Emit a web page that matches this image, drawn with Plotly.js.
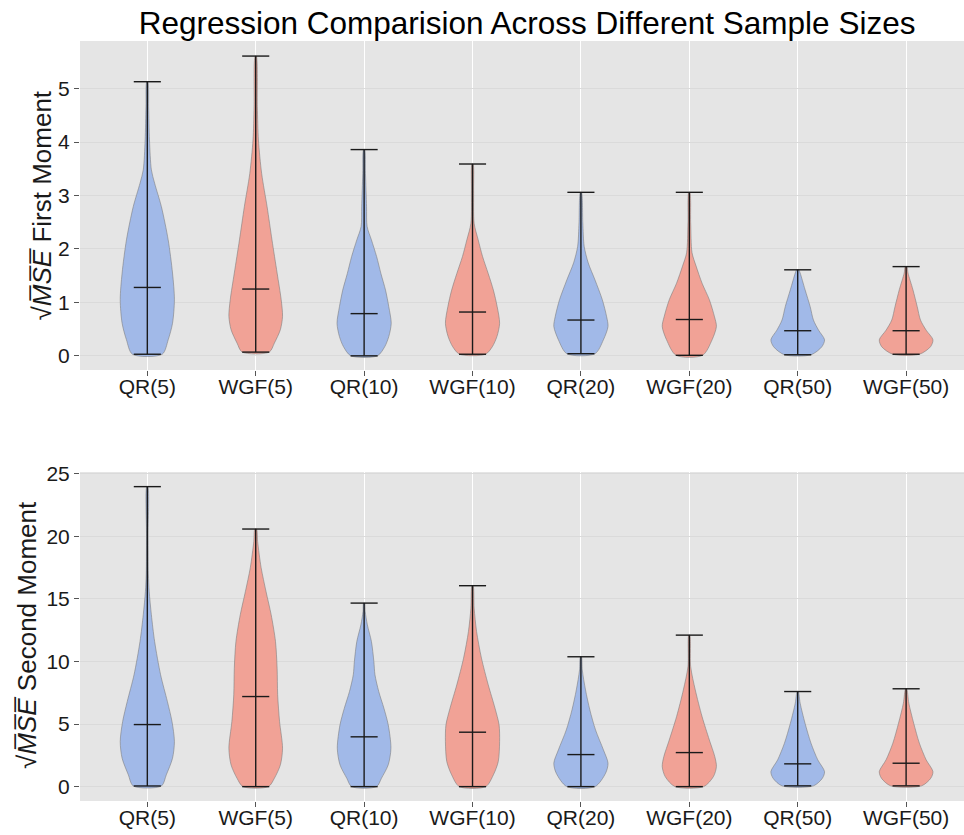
<!DOCTYPE html>
<html>
<head>
<meta charset="utf-8">
<script src="https://cdn.plot.ly/plotly-3.0.1.min.js"></script>
<style>html,body{margin:0;padding:0;background:#fff;}#chart{width:964px;height:835px;}</style>
</head>
<body>
<div id="chart"></div>
<script>
// ---- data ----
const categories = ["QR(5)", "WGF(5)", "QR(10)", "WGF(10)", "QR(20)", "WGF(20)", "QR(50)", "WGF(50)"];
const positions = [1, 2, 3, 4, 5, 6, 7, 8];

// First moment: summary values
const firstMin    = [0.03, 0.07, 0.00, 0.03, 0.04, 0.01, 0.02, 0.03];
const firstMax    = [5.13, 5.61, 3.86, 3.59, 3.06, 3.06, 1.61, 1.67];
const firstMedian = [1.28, 1.25, 0.79, 0.82, 0.67, 0.68, 0.47, 0.47];

// First moment: density profiles (value levels and relative density 0..1)
const firstLevels = [
  [0.03, 0.30, 0.61, 1.05, 1.55, 2.17, 2.79, 3.23, 3.48, 4.04, 4.66, 5.13],
  [0.07, 0.24, 0.49, 0.74, 1.05, 1.55, 2.17, 2.79, 3.41, 4.04, 4.66, 5.61],
  [0.00, 0.17, 0.36, 0.61, 0.92, 1.23, 1.54, 1.86, 2.17, 2.42, 2.79, 3.41, 3.86],
  [0.03, 0.17, 0.36, 0.61, 0.92, 1.23, 1.54, 1.86, 2.17, 2.48, 3.10, 3.59],
  [0.04, 0.30, 0.55, 0.73, 1.05, 1.42, 1.74, 2.05, 2.49, 3.06],
  [0.01, 0.30, 0.55, 0.73, 1.05, 1.36, 1.68, 1.93, 2.49, 3.06],
  [0.02, 0.17, 0.30, 0.48, 0.67, 0.92, 1.24, 1.55, 1.61],
  [0.03, 0.17, 0.30, 0.48, 0.67, 0.92, 1.24, 1.55, 1.67]
];
const firstDensity = [
  [0.55, 0.77, 0.93, 1.00, 0.93, 0.77, 0.52, 0.27, 0.15, 0.08, 0.05, 0.02],
  [0.50, 0.69, 0.91, 0.99, 0.94, 0.79, 0.60, 0.42, 0.22, 0.10, 0.06, 0.02],
  [0.49, 0.76, 0.91, 1.00, 0.91, 0.79, 0.62, 0.46, 0.27, 0.11, 0.09, 0.05, 0.02],
  [0.48, 0.73, 0.90, 1.00, 0.91, 0.77, 0.58, 0.37, 0.21, 0.06, 0.04, 0.02],
  [0.52, 0.83, 1.00, 0.95, 0.79, 0.52, 0.27, 0.12, 0.07, 0.02],
  [0.49, 0.84, 1.00, 0.93, 0.74, 0.47, 0.25, 0.10, 0.05, 0.02],
  [0.49, 0.89, 0.99, 0.77, 0.58, 0.46, 0.27, 0.09, 0.04],
  [0.49, 0.90, 0.99, 0.74, 0.53, 0.41, 0.25, 0.07, 0.03]
];

// Second moment: summary values
const secondMin    = [0.05, 0.00, 0.00, 0.00, 0.00, 0.00, 0.06, 0.06];
const secondMax    = [23.98, 20.59, 14.67, 16.06, 10.38, 12.11, 7.60, 7.82];
const secondMedian = [4.96, 7.20, 3.98, 4.35, 2.56, 2.72, 1.82, 1.87];

// Second moment: density profiles
const secondLevels = [
  [0.05, 0.94, 2.27, 3.61, 5.21, 6.81, 8.94, 11.6, 13.74, 15.6, 17.0, 20.0, 23.98],
  [0.00, 0.67, 1.74, 3.07, 5.21, 7.34, 9.47, 11.6, 13.74, 15.6, 17.5, 19.6, 20.59],
  [0.00, 0.67, 1.74, 3.07, 4.94, 6.27, 7.60, 8.94, 10.0, 11.6, 12.93, 14.0, 14.67],
  [0.00, 0.94, 2.00, 3.60, 4.94, 6.27, 8.14, 10.27, 12.4, 14.27, 16.06],
  [0.00, 1.07, 1.87, 2.94, 4.53, 6.13, 7.73, 9.33, 10.38],
  [0.00, 0.80, 1.60, 2.40, 3.73, 5.60, 7.73, 9.60, 12.11],
  [0.06, 0.67, 1.20, 2.14, 3.47, 5.07, 6.67, 7.60],
  [0.06, 0.67, 1.20, 2.14, 3.47, 5.07, 6.67, 7.82]
];
const secondDensity = [
  [0.52, 0.70, 0.93, 1.00, 0.91, 0.74, 0.49, 0.27, 0.15, 0.07, 0.04, 0.03, 0.02],
  [0.47, 0.69, 0.91, 0.99, 0.88, 0.81, 0.79, 0.73, 0.57, 0.38, 0.20, 0.07, 0.03],
  [0.46, 0.64, 0.89, 0.99, 0.89, 0.73, 0.54, 0.40, 0.36, 0.27, 0.12, 0.04, 0.02],
  [0.49, 0.77, 0.95, 1.00, 0.98, 0.83, 0.58, 0.33, 0.15, 0.06, 0.02],
  [0.52, 0.91, 1.00, 0.83, 0.54, 0.33, 0.17, 0.05, 0.02],
  [0.53, 0.89, 1.00, 0.94, 0.74, 0.47, 0.22, 0.05, 0.02],
  [0.58, 0.91, 0.99, 0.74, 0.49, 0.27, 0.09, 0.02],
  [0.57, 0.91, 0.99, 0.74, 0.49, 0.28, 0.10, 0.02]
];

const yTicksFirst = [0, 1, 2, 3, 4, 5];
const yTicksSecond = [0, 5, 10, 15, 20, 25];
const chartTitle = "Regression Comparision Across Different Sample Sizes";
const yTitleFirst = "√<i>M\u0305S\u0305E\u0305</i> First Moment";
const yTitleSecond = "√<i>M\u0305S\u0305E\u0305</i> Second Moment";

// ---- styling ----
const HALF = 0.25;     // half of violin width
const CAP = 0.125;     // half cap length
const fills = ["#a1b9e8", "#f1a296"];
const FONT = "Liberation Sans, Arial, sans-serif";

function buildTraces(levels, density, mins, maxs, meds, xa, ya) {
  const traces = [];
  for (let i = 0; i < positions.length; i++) {
    const p = positions[i];
    const lv = levels[i], dn = density[i];
    const xs = [], ys = [];
    for (let k = 0; k < lv.length; k++) { xs.push(p + HALF * dn[k]); ys.push(lv[k]); }
    for (let k = lv.length - 1; k >= 0; k--) { xs.push(p - HALF * dn[k]); ys.push(lv[k]); }
    xs.push(xs[0]); ys.push(ys[0]);
    traces.push({
      type: "scatter", mode: "lines", x: xs, y: ys, xaxis: xa, yaxis: ya,
      fill: "toself", fillcolor: fills[i % 2],
      line: {color: "rgba(120,120,120,0.55)", width: 1, shape: "spline", smoothing: 0.8},
      hoverinfo: "skip", showlegend: false
    });
  }
  const lx = [], ly = [];
  for (let i = 0; i < positions.length; i++) {
    const p = positions[i];
    lx.push(p, p, null); ly.push(mins[i], maxs[i], null);
    lx.push(p - CAP, p + CAP, null); ly.push(mins[i], mins[i], null);
    lx.push(p - CAP, p + CAP, null); ly.push(maxs[i], maxs[i], null);
    lx.push(p - CAP, p + CAP, null); ly.push(meds[i], meds[i], null);
  }
  traces.push({
    type: "scatter", mode: "lines", x: lx, y: ly, xaxis: xa, yaxis: ya,
    line: {color: "#1a1a1a", width: 1.4}, hoverinfo: "skip", showlegend: false, connectgaps: false
  });
  return traces;
}

const data = [].concat(
  buildTraces(firstLevels, firstDensity, firstMin, firstMax, firstMedian, "x", "y"),
  buildTraces(secondLevels, secondDensity, secondMin, secondMax, secondMedian, "x2", "y2")
);

function xAxis(anchor) {
  return {
    anchor: anchor, domain: [0, 1], range: [0.379, 8.534],
    tickmode: "array", tickvals: positions, ticktext: categories,
    showgrid: true, gridcolor: "#ffffff", gridwidth: 1,
    zeroline: false, showline: false,
    ticks: "outside", ticklen: 5, tickwidth: 1, tickcolor: "#555555",
    ticklabelstandoff: -7,
    tickfont: {family: FONT, size: 21, color: "#1a1a1a"}
  };
}
function yAxis(anchor, domain, range, ticks) {
  return {
    anchor: anchor, domain: domain, range: range,
    tickmode: "array", tickvals: ticks,
    showgrid: true, gridcolor: "#dadada", gridwidth: 1,
    zeroline: false, showline: false,
    ticks: "outside", ticklen: 5, tickwidth: 1, tickcolor: "#555555",
    tickfont: {family: FONT, size: 21, color: "#1a1a1a"}
  };
}

const layout = {
  width: 964, height: 835,
  margin: {l: 80, r: 0, t: 41, b: 34, pad: 0},
  paper_bgcolor: "#ffffff", plot_bgcolor: "#e5e5e5",
  title: {
    text: chartTitle,
    font: {family: FONT, size: 31.5, color: "#000000"},
    x: 0.5057, xref: "paper", xanchor: "center",
    y: 0.972, yref: "container", yanchor: "middle"
  },
  xaxis: xAxis("y"),
  yaxis: yAxis("x", [0.5671, 1], [-0.265, 5.892], yTicksFirst),
  xaxis2: xAxis("y2"),
  yaxis2: yAxis("x2", [0, 0.4329], [-1.15, 25.15], yTicksSecond),
  annotations: [
    {text: yTitleFirst, textangle: -90, xref: "paper", yref: "paper",
     x: -0.043, y: 0.7836, xanchor: "center", yanchor: "middle", showarrow: false,
     font: {family: FONT, size: 26, color: "#1a1a1a"}},
    {text: yTitleSecond, textangle: -90, xref: "paper", yref: "paper",
     x: -0.060, y: 0.2184, xanchor: "center", yanchor: "middle", showarrow: false,
     font: {family: FONT, size: 26, color: "#1a1a1a"}}
  ],
  showlegend: false
};

Plotly.newPlot("chart", data, layout, {displayModeBar: false, staticPlot: true});
</script>
</body>
</html>
